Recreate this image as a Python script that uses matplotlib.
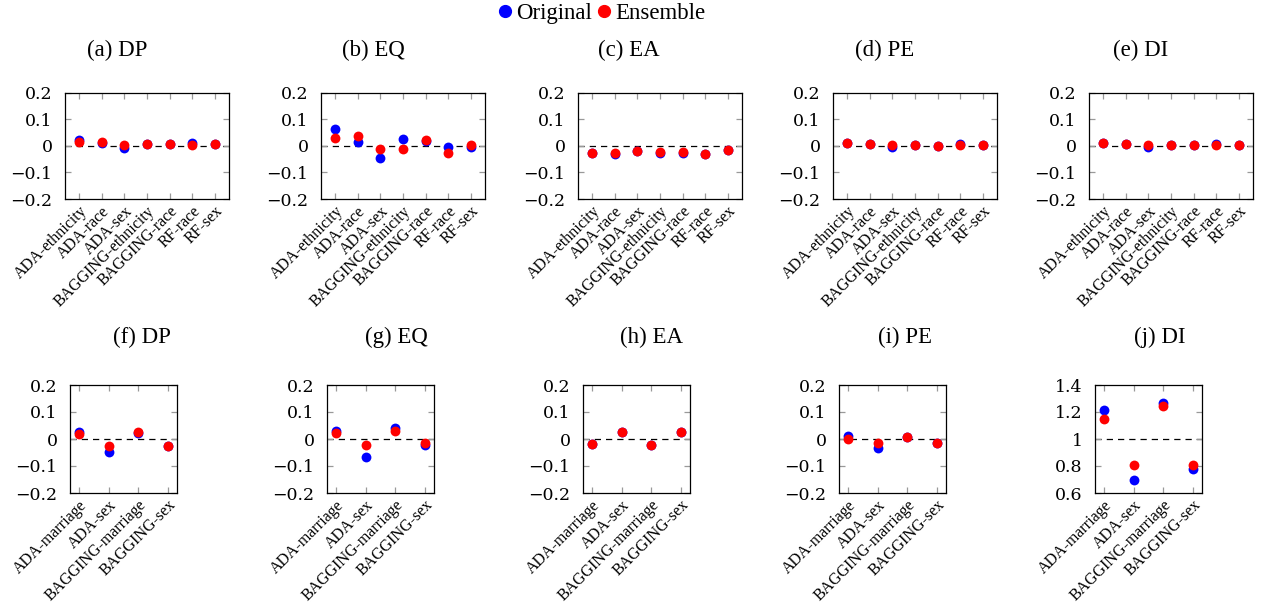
import matplotlib
matplotlib.use("Agg")
import matplotlib.pyplot as plt
from matplotlib.lines import Line2D

plt.rcParams["font.family"] = ["Liberation Serif", "DejaVu Serif"]
plt.rcParams["mathtext.fontset"] = "cm"

# top row: one dataset with 7 model/attribute pairs
top_labels = ["ADA-ethnicity", "ADA-race", "ADA-sex", "BAGGING-ethnicity",
              "BAGGING-race", "RF-race", "RF-sex"]
top_titles = ["(a) DP", "(b) EQ", "(c) EA", "(d) PE", "(e) DI"]
top_orig = [
    [0.024, 0.013, -0.009, 0.009, 0.009, 0.010, 0.006],
    [0.066, 0.016, -0.044, 0.025, 0.019, -0.004, -0.003],
    [-0.026, -0.029, -0.019, -0.025, -0.025, -0.030, -0.015],
    [0.012, 0.009, -0.005, 0.005, 0.001, 0.007, 0.003],
    [0.012, 0.009, -0.004, 0.005, 0.002, 0.007, 0.004],
]
top_ens = [
    [0.015, 0.014, 0.004, 0.009, 0.009, 0.003, 0.006],
    [0.031, 0.037, -0.011, -0.010, 0.024, -0.026, 0.004],
    [-0.025, -0.028, -0.018, -0.024, -0.024, -0.029, -0.014],
    [0.012, 0.009, 0.005, 0.005, 0.001, 0.002, 0.003],
    [0.012, 0.009, 0.005, 0.005, 0.002, 0.003, 0.004],
]

# bottom row: second dataset with 4 pairs
bot_labels = ["ADA-marriage", "ADA-sex", "BAGGING-marriage", "BAGGING-sex"]
bot_titles = ["(f) DP", "(g) EQ", "(h) EA", "(i) PE", "(j) DI"]
bot_orig = [
    [0.027, -0.049, 0.021, -0.025],
    [0.031, -0.065, 0.040, -0.021],
    [-0.020, 0.026, -0.024, 0.027],
    [0.011, -0.032, 0.009, -0.015],
    [1.214, 0.700, 1.264, 0.780],
]
bot_ens = [
    [0.018, -0.026, 0.025, -0.025],
    [0.023, -0.022, 0.029, -0.015],
    [-0.019, 0.026, -0.024, 0.027],
    [0.001, -0.015, 0.009, -0.015],
    [1.147, 0.805, 1.242, 0.810],
]

W, H = 1264, 612
top_lefts = [65, 321, 578, 833, 1089]
bot_lefts = [70, 327, 583, 839, 1095]
# subfigure captions sit centred on their column, not on the axes box
top_title_x = [117, 373, 629, 885, 1141]
bot_title_x = [142, 396, 651, 905, 1160]


def draw_panel(px_left, px_top, px_w, px_h, labels, orig, ens, base):
    ax = fig.add_axes([px_left / W, 1 - (px_top + px_h) / H, px_w / W, px_h / H])
    xs = list(range(len(labels)))
    ax.axhline(base, color="black", linestyle=(0, (5, 4)), linewidth=0.9, zorder=1)
    ax.scatter(xs, orig, s=50, color="blue", zorder=3, linewidths=0)
    ax.scatter(xs, ens, s=50, color="red", zorder=4, linewidths=0)
    if base == 1:
        yt = [0.6, 0.8, 1.0, 1.2, 1.4]
        ytl = ["0.6", "0.8", "1", "1.2", "1.4"]
        ax.set_ylim(0.6, 1.4)
    else:
        yt = [-0.2, -0.1, 0, 0.1, 0.2]
        ytl = ["\u22120.2", "\u22120.1", "0", "0.1", "0.2"]
        ax.set_ylim(-0.2, 0.2)
    ax.set_yticks(yt)
    ax.set_yticklabels(ytl, fontsize=12.5, family=["DejaVu Serif"])
    pad = 0.62 if len(labels) > 4 else 0.3
    ax.set_xlim(-pad, len(labels) - 1 + pad)
    ax.set_xticks(xs)
    ax.set_xticklabels(labels, rotation=45, ha="right", rotation_mode="anchor",
                       fontsize=11.5)
    for s in ax.spines.values():
        s.set_linewidth(0.9)
    ax.tick_params(direction="in", length=4, width=0.9, color="#999999",
                   top=True, right=True)
    ax.tick_params(axis="y", pad=9)
    ax.tick_params(axis="x", pad=3)
    return ax


fig = plt.figure(figsize=(W / 100, H / 100), dpi=100)

for i in range(5):
    draw_panel(top_lefts[i], 93, 164, 106, top_labels, top_orig[i], top_ens[i], 0)
    fig.text(top_title_x[i] / W, 1 - 50 / H, top_titles[i], ha="center", va="center",
             fontsize=16.5)

for i in range(5):
    base = 1 if bot_titles[i].endswith("DI") else 0
    draw_panel(bot_lefts[i], 385, 107, 108, bot_labels, bot_orig[i], bot_ens[i], base)
    fig.text(bot_title_x[i] / W, 1 - 337 / H, bot_titles[i], ha="center", va="center",
             fontsize=16.5)

handles = [
    Line2D([], [], marker="o", color="blue", linestyle="none", markersize=8.5),
    Line2D([], [], marker="o", color="red", linestyle="none", markersize=8.5),
]
fig.legend(handles, ["Original", "Ensemble"], loc="center", bbox_to_anchor=(0.475, 1 - 13 / H),
           ncol=2, frameon=False, fontsize=16.5, handletextpad=0.1, columnspacing=0.1,
           handlelength=0.8)

fig.savefig("out.png", dpi=100)
